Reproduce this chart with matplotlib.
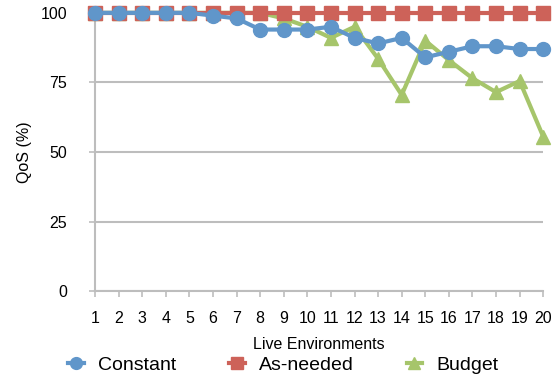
import matplotlib.pyplot as plt

plt.rcParams['font.family'] = ['Liberation Sans', 'DejaVu Sans']

# Data
envs = list(range(1, 21))
constant = [100, 100, 100, 100, 100, 99, 98, 94, 94, 94, 95, 91, 89, 91, 84, 86, 88, 88, 87, 87]
as_needed = [100] * 20
budget = [100, 100, 100, 100, 100, 100, 100, 100, 98, 95, 91, 95, 83.5, 70.5, 90, 83, 76.5, 71.5, 75.5, 55.5]

blue = '#6096CA'
red = '#CD6259'
green = '#A6C56B'
grey = '#BDBDBD'

fig = plt.figure(figsize=(5.56, 3.78), dpi=100)
ax = fig.add_axes([0.171, 0.230, 0.806, 0.736])

ax.plot(envs, budget, color=green, lw=3, marker='^', markersize=10,
        label='Budget', zorder=3, clip_on=False)
ax.plot(envs, as_needed, color=red, lw=3, marker='s', markersize=10,
        label='As-needed', zorder=4, clip_on=False)
ax.plot(envs, constant, color=blue, lw=3, marker='o', markersize=10,
        label='Constant', zorder=5, clip_on=False)

ax.set_xlim(1, 20)
ax.set_ylim(0, 100)
ax.set_xticks(envs)
ax.set_yticks([0, 25, 50, 75, 100])

ax.yaxis.grid(True, color=grey, lw=1.5)
ax.set_axisbelow(True)
for s in ['top', 'right']:
    ax.spines[s].set_visible(False)
for s in ['left', 'bottom']:
    ax.spines[s].set_color(grey)
    ax.spines[s].set_linewidth(1.5)
ax.tick_params(colors=grey, labelcolor='black', labelsize=11.5, width=1.2, length=4)
ax.tick_params(axis='y', pad=16)
ax.tick_params(axis='x', pad=10)

ax.set_xlabel('Live Environments', fontsize=11.5, labelpad=8)
ax.set_ylabel('QoS (%)', fontsize=11.5, labelpad=6)

h, l = ax.get_legend_handles_labels()
order = [2, 1, 0]
leg = fig.legend([h[i] for i in order], [l[i] for i in order], ncol=3,
                 loc='center', bbox_to_anchor=(0.51, 0.034), frameon=False,
                 fontsize=14, handlelength=0.8, handletextpad=0.75,
                 columnspacing=2.7, markerscale=0.85)

plt.savefig('out.png', dpi=100)
